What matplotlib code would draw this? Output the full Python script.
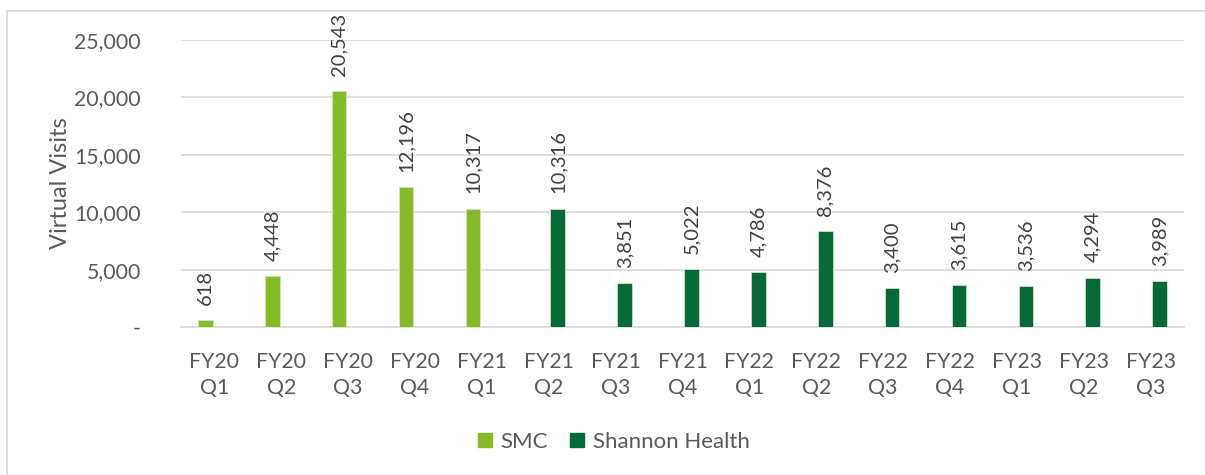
import matplotlib.pyplot as plt
import numpy as np
from matplotlib.lines import Line2D

quarters = ["FY20\nQ1", "FY20\nQ2", "FY20\nQ3", "FY20\nQ4", "FY21\nQ1", "FY21\nQ2",
            "FY21\nQ3", "FY21\nQ4", "FY22\nQ1", "FY22\nQ2", "FY22\nQ3", "FY22\nQ4",
            "FY23\nQ1", "FY23\nQ2", "FY23\nQ3"]
smc = [618, 4448, 20543, 12196, 10317, 0, 0, 0, 0, 0, 0, 0, 0, 0, 0]
shannon = [0, 0, 0, 0, 0, 10316, 3851, 5022, 4786, 8376, 3400, 3615, 3536, 4294, 3989]
yticks = [0, 5000, 10000, 15000, 20000, 25000]

plt.rcParams['font.family'] = ['Lato', 'DejaVu Sans']
grey = "#595959"
c_smc = "#84BB26"
c_sh = "#066A38"

fig = plt.figure(figsize=(12.05, 4.75), dpi=100)
ax = fig.add_axes([181 / 1205, 1 - 327 / 475, (1184 - 181) / 1205, (327 - 40) / 475])

x = np.arange(len(quarters))
w = 0.22
off = 0.135

def draw(vals, dx, color):
    xs = [xi + dx for xi, v in zip(x, vals) if v > 0]
    vs = [v for v in vals if v > 0]
    bars = ax.bar(xs, vs, width=w, color=color, edgecolor="#CFE3C5", linewidth=0.6, zorder=3)
    ax.bar_label(bars, labels=[f"{v:,}" for v in vs], rotation=90, padding=11,
                 fontsize=14.5, color="#404040")
    return bars

draw(smc, -off, c_smc)
draw(shannon, off, c_sh)

ax.set_xlim(-0.5, len(quarters) - 0.5)
ax.set_ylim(0, 25000)
ax.set_yticks(yticks)
ax.set_yticklabels(["-" if t == 0 else f"{t:,}" for t in yticks])
ax.set_xticks(x)
ax.set_xticklabels(quarters, linespacing=1.35)
ax.tick_params(axis="both", length=0, labelsize=15.3, labelcolor=grey)
ax.tick_params(axis="y", pad=29)
ax.tick_params(axis="x", pad=18)
ax.grid(axis="y", color="#D9D9D9", linewidth=1.2, zorder=0)
for s in ["top", "right", "left"]:
    ax.spines[s].set_visible(False)
ax.spines["bottom"].set_color("#D9D9D9")
ax.spines["bottom"].set_linewidth(1.2)
ax.set_ylabel("Virtual Visits", fontsize=17, color=grey, labelpad=2.5)

handles = [plt.Rectangle((0, 0), 1, 1, color=c_smc), plt.Rectangle((0, 0), 1, 1, color=c_sh)]
fig.legend(handles, ["SMC", "Shannon Health"], loc="center", bbox_to_anchor=(614 / 1205, 1 - 442 / 475),
           ncol=2, frameon=False, fontsize=16, labelcolor=grey, handlelength=0.6, handleheight=0.6,
           handletextpad=0.4, columnspacing=1.0)

# chart frame (top and left edges visible)
fig.add_artist(Line2D([7 / 1205, 7 / 1205], [0, 1 - 11 / 475], transform=fig.transFigure,
                      color="#D9D9D9", linewidth=1.2))
fig.add_artist(Line2D([7 / 1205, 1], [1 - 11 / 475, 1 - 11 / 475], transform=fig.transFigure,
                      color="#D9D9D9", linewidth=1.2))

fig.savefig("out.png", dpi=100)
